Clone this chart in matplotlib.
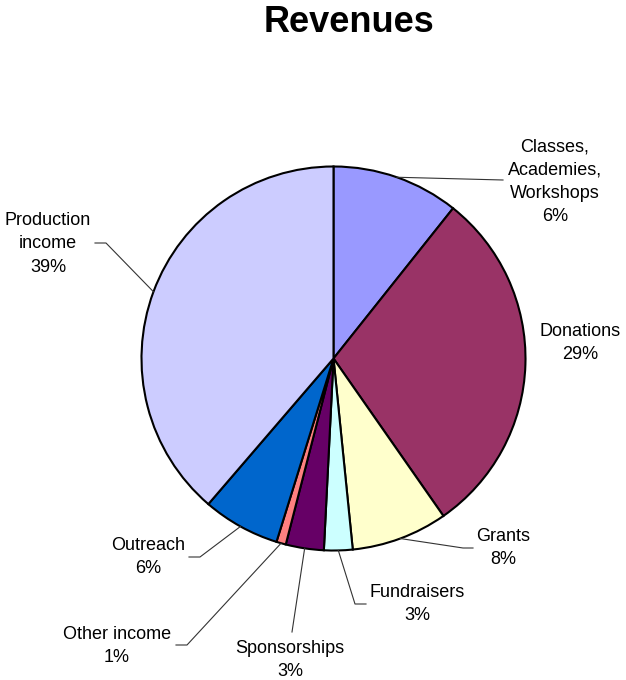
import numpy as np
import matplotlib
matplotlib.use('Agg')
import matplotlib.pyplot as plt

# slices, clockwise from 12 o'clock (sizes)
categories = ['Classes,\nAcademies,\nWorkshops', 'Donations', 'Grants', 'Fundraisers',
              'Sponsorships', 'Other income', 'Outreach', 'Production\nincome']
values = [10.7, 29.6, 8.1, 2.4, 3.2, 0.8, 6.5, 38.7]
# percentages as printed on the chart
pct_labels = ['6%', '29%', '8%', '3%', '3%', '1%', '6%', '39%']
colors = ['#9999FF', '#993366', '#FFFFCC', '#CCFFFF', '#660066', '#FF8080', '#0066CC', '#CCCCFF']

W, H = 626, 680
# label block centres and leader elbow / end points, in image pixels (y down)
label_pos = [(555, 182), (580, 343), (503, 548), (417, 604),
             (290, 660), (117, 646), (148, 557), (48, 244)]
leader_pts = [[(503, 180)], None, [(463, 548), (473, 548)], [(355, 604), (366, 604)],
              [(292, 632)], [(187, 645), (176, 645)], [(200, 557), (189, 557)],
              [(106, 243), (95, 243)]]

plt.rcParams['font.family'] = ['Liberation Sans', 'DejaVu Sans']

fig = plt.figure(figsize=(W / 100, H / 100), dpi=100)
ax = fig.add_axes([0, 0, 1, 1])

cx, cy, r = 333.5, H - 358.5, 192
wedges, _ = ax.pie(values, colors=colors, startangle=90, counterclock=False,
                   radius=r, center=(cx, cy),
                   wedgeprops=dict(edgecolor='black', linewidth=1.5))

for w, name, pct, (lx, ly), pts in zip(wedges, categories, pct_labels, label_pos, leader_pts):
    ax.text(lx, H - ly, f'{name}\n{pct}', ha='center', va='center',
            fontsize=13, linespacing=1.47, color='black')
    if pts is None:
        continue
    mid = np.deg2rad((w.theta1 + w.theta2) / 2)
    xs = [cx + r * np.cos(mid)] + [p[0] for p in pts]
    ys = [cy + r * np.sin(mid)] + [H - p[1] for p in pts]
    ax.plot(xs, ys, color='#333333', lw=0.8)

ax.text(349, H - 32, 'Revenues', ha='center', va='baseline',
        fontsize=26, fontweight='bold')

ax.set_xlim(0, W)
ax.set_ylim(0, H)
ax.set_aspect('equal')
ax.axis('off')

fig.savefig('out.png', dpi=100, facecolor='white')
